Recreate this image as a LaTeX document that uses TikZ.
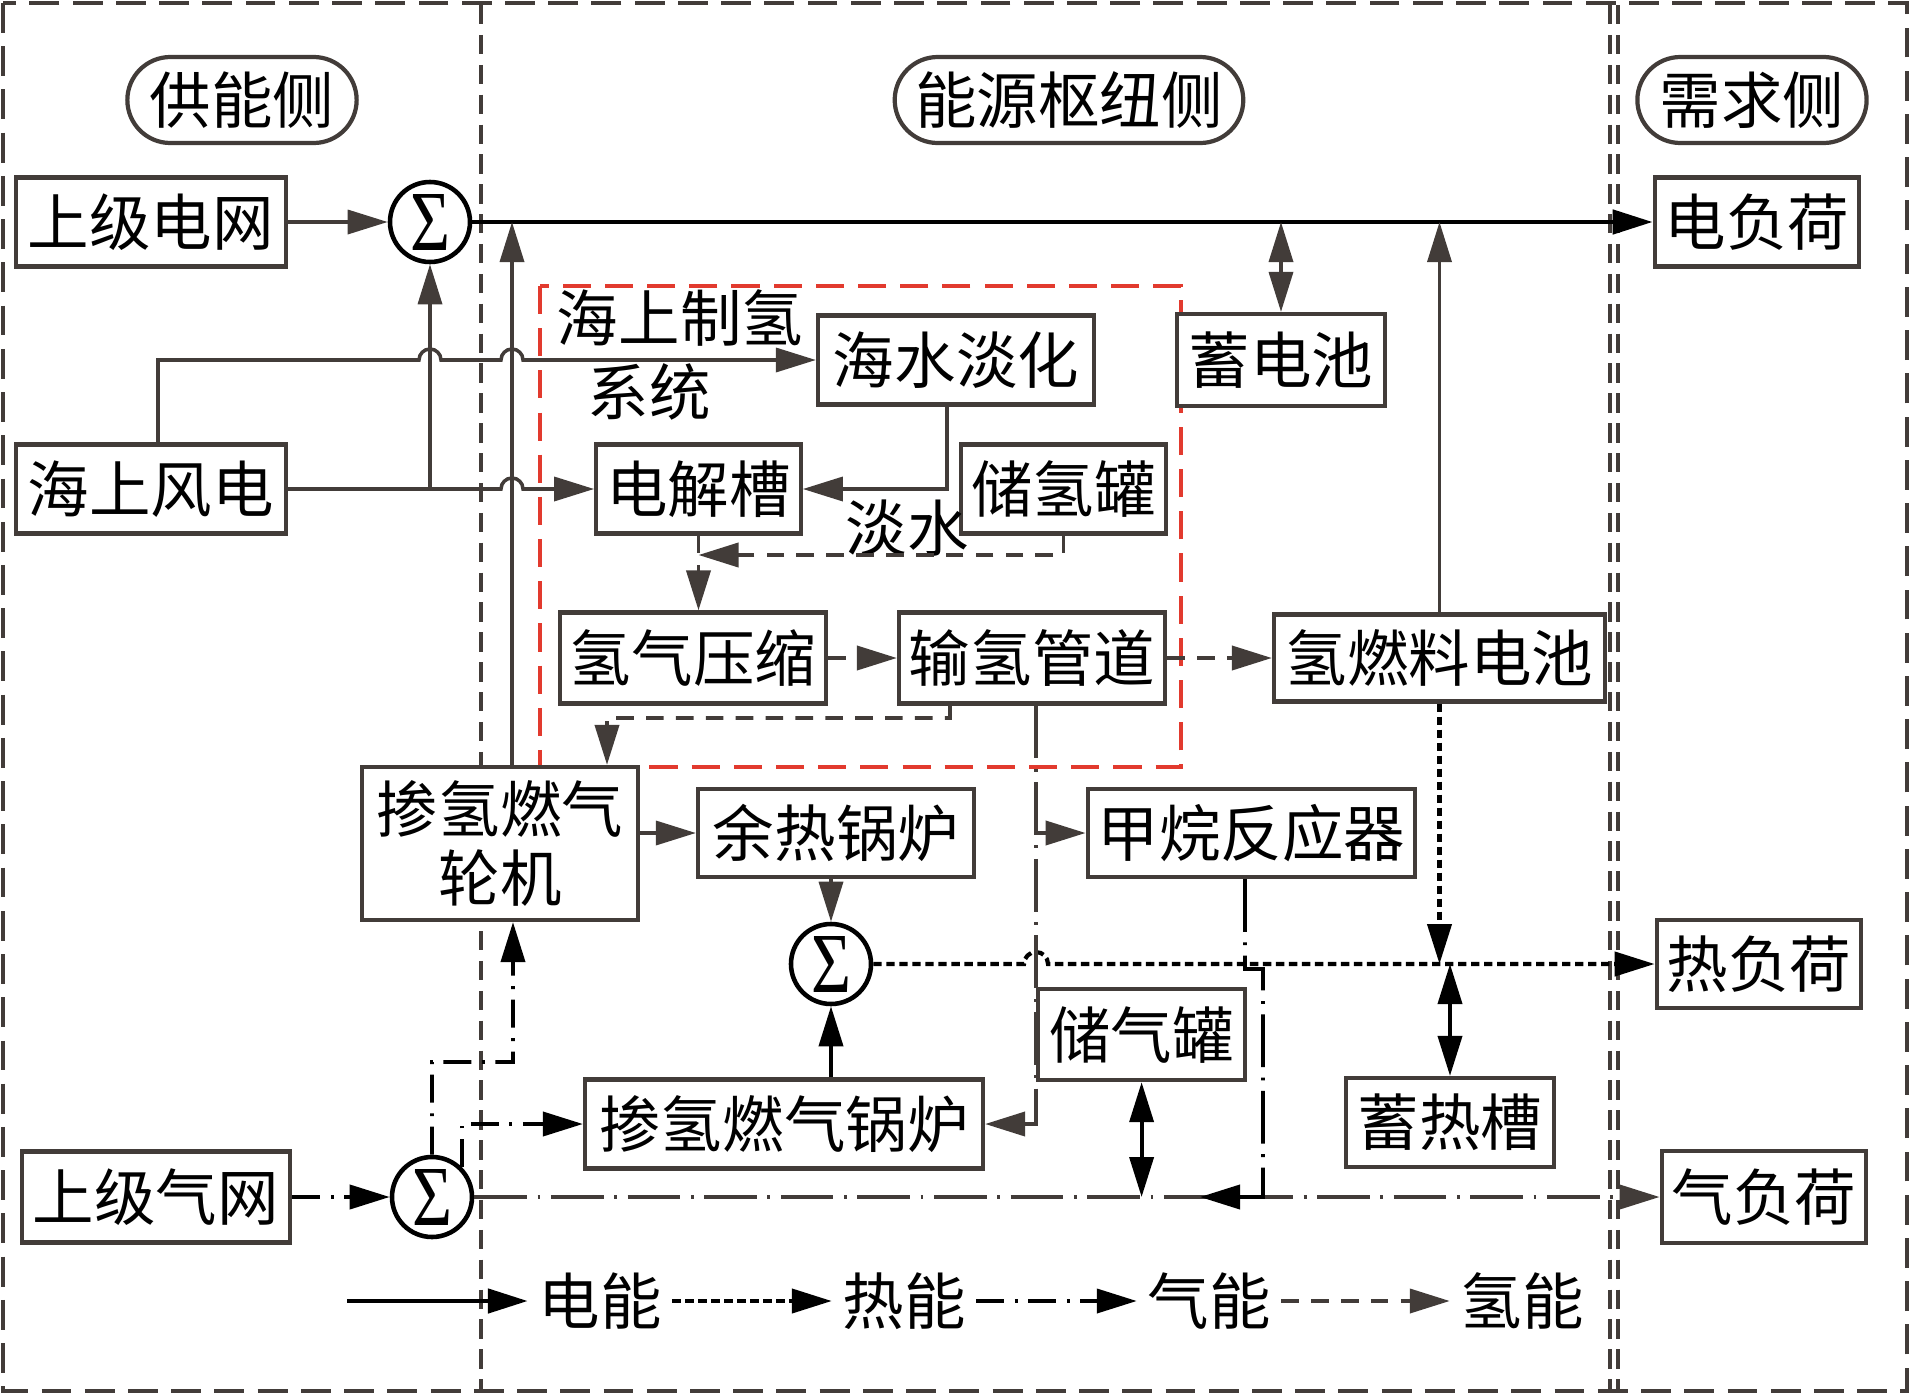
\documentclass[tikz,border=0pt]{standalone}
\usepackage{fontspec}
\setmainfont{Noto Sans CJK SC}
\newfontfamily\greekserif{Liberation Serif}
\usetikzlibrary{arrows.meta, shapes.misc}
\definecolor{lgray}{RGB}{66,60,57}
\definecolor{hred}{RGB}{226,58,46}
\newcommand{\SumMark}{\resizebox*{0.40cm}{0.56cm}{\greekserif Σ}}

\begin{document}
\begin{tikzpicture}[
    font=\fontsize{17.5}{20}\selectfont,
    arr/.style={-{Triangle[length=4mm, width=2.4mm]}},
    darr/.style={{Triangle[length=4mm, width=2.4mm]}-{Triangle[length=4mm, width=2.4mm]}},
    blk/.style={rectangle, draw=lgray, line width=1.2pt, fill=white,
      minimum height=0.89cm, inner sep=1mm},
    pill/.style={rounded rectangle, draw=lgray, line width=1.2pt,
      minimum height=0.86cm, minimum width=2.21cm},
    sumnode/.style={circle, draw=black, line width=1.3pt, fill=white,
      minimum size=0.8cm, inner sep=0pt},
    legtext/.style={inner xsep=1mm},
    eflow/.style={draw=lgray, line width=1pt},
    ebus/.style={draw=black, line width=1.4pt},
    hflow/.style={draw=black, line width=1.2pt, dash pattern=on 2.4pt off 1.3pt},
    gflow/.style={draw=lgray, line width=1.1pt,
      dash pattern=on 15pt off 3pt on 0.8pt off 3pt},
    gflowk/.style={gflow, draw=black},
    gshort/.style={draw=black, line width=1.1pt,
      dash pattern=on 8pt off 3pt on 0.8pt off 3pt},
    hyflow/.style={draw=lgray, line width=1.1pt, dash pattern=on 5pt off 3.5pt},
    divline/.style={draw=lgray, line width=0.9pt, dash pattern=on 5.5pt off 3pt},
  ]
    \useasboundingbox (0,0) rectangle (19.10,-13.94);
    % frames
    \draw[lgray, line width=1.4pt, dash pattern=on 8.5pt off 3.8pt]
      (0.03,-0.03) rectangle (19.07,-13.91);
    \draw[divline] (4.81,-0.05) -- (4.81,-13.90);
    \draw[divline] (16.10,-0.05) -- (16.10,-13.90);
    \draw[divline] (16.18,-0.05) -- (16.18,-13.90);
    \draw[hred, line width=1.1pt, dash pattern=on 8pt off 4pt]
      (5.40,-2.86) rectangle (11.81,-7.67);
    % side titles
    \node[pill] (supT) at (2.42,-1.00) {供能侧};
    \node[pill, minimum width=3.72cm] (hubT) at (10.69,-1.00) {能源枢纽侧};
    \node[pill] (demT) at (17.52,-1.00) {需求侧};
    % supply side
    \node[blk, minimum width=2.70cm] (grid) at (1.51,-2.22) {上级电网};
    \node[blk, minimum width=2.70cm] (wind) at (1.51,-4.89) {海上风电};
    \node[blk, minimum width=2.68cm, minimum height=0.91cm] (ggrid) at (1.56,-11.97) {上级气网};
    \node[sumnode] (sumE) at (4.30,-2.22) {\SumMark};
    \node[sumnode] (sumG) at (4.32,-11.97) {\SumMark};
    % offshore hydrogen system
    \node[align=left, font=\fontsize{17.5}{21}\selectfont] (h2sys) at (6.80,-3.55)
      {海上制氢\\\hspace*{0.31cm}系统};
    \node[blk, minimum width=2.76cm] (desal) at (9.56,-3.60) {海水淡化};
    \node[blk, minimum width=2.03cm] (elec) at (6.985,-4.89) {电解槽};
    \node[blk, minimum width=1.95cm] (htank) at (10.635,-4.89) {储氢罐};
    \node (fwater) at (9.07,-5.28) {淡水};
    \node[blk, minimum width=2.66cm, minimum height=0.91cm] (comp) at (6.93,-6.58) {氢气压缩};
    \node[blk, minimum width=2.62cm, minimum height=0.91cm] (pipe) at (10.32,-6.58) {输氢管道};
    % hub
    \node[blk, minimum width=2.08cm, minimum height=0.92cm] (batt) at (12.81,-3.60) {蓄电池};
    \node[blk, minimum width=3.31cm, minimum height=0.87cm] (fcell) at (14.395,-6.58) {氢燃料电池};
    \node[blk, minimum width=2.76cm, minimum height=1.53cm, align=center,
          font=\fontsize{17.5}{19.5}\selectfont] (gturb) at (5.00,-8.435) {掺氢燃气\\轮机};
    \node[blk, minimum width=2.76cm, minimum height=0.88cm] (whb) at (8.36,-8.33) {余热锅炉};
    \node[blk, minimum width=3.27cm, minimum height=0.88cm] (meth) at (12.515,-8.33) {甲烷反应器};
    \node[sumnode] (sumH) at (8.31,-9.64) {\SumMark};
    \node[blk, minimum width=2.07cm, minimum height=0.91cm, anchor=north west]
          (gtank) at (10.36,-9.87) {储气罐};
    \node[blk, minimum width=3.98cm] (gboil) at (7.84,-11.24) {掺氢燃气锅炉};
    \node[blk, minimum width=2.08cm] (hstore) at (14.50,-11.225) {蓄热槽};
    % demand side
    \node[blk, minimum width=2.04cm] (eload) at (17.57,-2.22) {电负荷};
    \node[blk, minimum width=2.04cm, minimum height=0.88cm] (hload) at (17.59,-9.64) {热负荷};
    \node[blk, minimum width=2.02cm, minimum height=0.92cm] (gload) at (17.64,-11.97) {气负荷};
    % legend
    \coordinate (leg0) at (3.47,-13.01);
    \node[legtext] (legE) at (6.00,-13.01) {电能};
    \node[legtext] (legH) at (9.04,-13.01) {热能};
    \node[legtext] (legG) at (12.09,-13.01) {气能};
    \node[legtext] (legY) at (15.22,-13.01) {氢能};
    % helper points
    \coordinate (wN) at ([xshift=0.7mm]wind.north);
    \coordinate (tE) at ([xshift=1.2mm]gturb.north);
    \coordinate (tH) at ([xshift=10.7mm]gturb.north);
    \coordinate (tG) at ([xshift=1.3mm]gturb.south);
    \coordinate (dS) at ([xshift=-0.9mm]desal.south);
    \coordinate (hJ) at (6.985,-5.55);
    \coordinate (pT) at ([xshift=-8.2mm]pipe.south);
    \coordinate (pG) at ([xshift=0.4mm]pipe.south);
    \coordinate (mS) at ([xshift=-0.65mm]meth.south);
    \coordinate (mG) at (12.00,-11.97);
    % electricity
    \draw[eflow, arr] (grid) -- (sumE);
    \draw[ebus, arr] (sumE) -- (eload);
    \draw[eflow, arr] (sumE.south |- wind.east) -- (sumE.south);
    \draw[eflow, arr] (wind.east) -- (5.01,-4.89)
      arc[start angle=180, end angle=0, radius=0.11] -- (elec.west);
    \draw[eflow, arr] (wN) |- (4.19,-3.60)
      arc[start angle=180, end angle=0, radius=0.11] -- (5.01,-3.60)
      arc[start angle=180, end angle=0, radius=0.11] -- (desal.west);
    \draw[eflow, arr] (tE) -- (tE |- sumE);
    \draw[eflow, darr] (batt.north) -- (batt.north |- sumE);
    \draw[eflow, arr] (fcell.north) -- (fcell.north |- sumE);
    \draw[eflow, arr] (dS) |- (elec.east);
    % hydrogen
    \draw[hyflow, arr] (elec.south) -- (elec.south |- comp.north);
    \draw[hyflow, arr] (htank.south) |- (hJ);
    \draw[hyflow, arr] (comp) -- (pipe);
    \draw[hyflow, arr] (pipe) -- (fcell);
    \draw[hyflow, arr] (pT) |- (6.07,-7.18) -- (tH);
    % heat
    \draw[eflow, arr] (gturb.east |- whb.west) -- (whb.west);
    \draw[eflow, arr] (sumH.north |- whb.south) -- (sumH.north);
    \draw[black, line width=1.1pt, arr] (sumH.south |- gboil.north) -- (sumH.south);
    \draw[hflow, arr] (sumH.east) -- (10.24,-9.64)
      arc[start angle=180, end angle=0, radius=0.12] -- (hload.west);
    \draw[hflow, arr] (fcell.south) -- (fcell.south |- sumH);
    \draw[black, line width=1.1pt, darr] (hstore.north) -- (hstore.north |- sumH);
    % gas
    \draw[gshort, arr] (ggrid) -- (sumG);
    \draw[gflow, arr] (sumG) -- (gload);
    \draw[gshort, arr] (sumG.north) -- (4.32,-10.62) -- (5.13,-10.62) -- (tG);
    \draw[gshort, arr] (sumG.45) |- (gboil.west);
    \draw[gflow, arr] (pG) |- (gboil.east);
    \draw[gflow, arr] (pG |- meth.west) -- (meth.west);
    \draw[gflowk, arr] (mS) -- (12.45,-9.69) -- (12.63,-9.69) |- (mG);
    \draw[black, line width=1.1pt, darr] (gtank.south) -- (gtank.south |- sumG);
    % legend arrows
    \draw[ebus, arr] (leg0) -- (legE);
    \draw[hflow, arr] (legE) -- (legH);
    \draw[gshort, arr] (legH) -- (legG);
    \draw[hyflow, arr] (legG) -- (legY);
\end{tikzpicture}
\end{document}
